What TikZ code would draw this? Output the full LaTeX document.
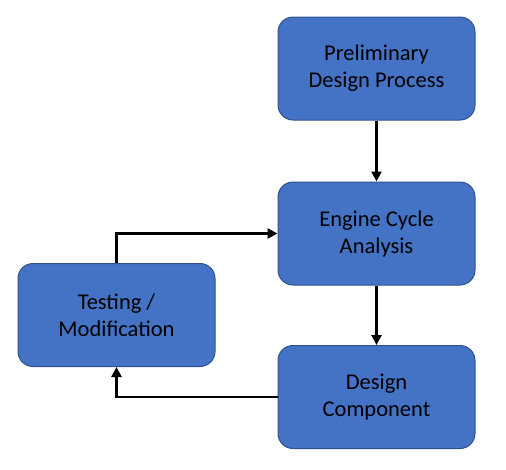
\documentclass[tikz,border=0pt]{standalone}
\usepackage{fontspec}
\setmainfont{Carlito}
\usetikzlibrary{arrows.meta}
\definecolor{boxfill}{HTML}{4472C4}
\definecolor{boxline}{HTML}{2F528F}
\tikzset{
  blk/.style={draw=boxline, fill=boxfill, line width=1pt, rounded corners=15pt,
    minimum width=197pt, minimum height=103pt, inner sep=0pt, align=center,
    font=\fontsize{22.5}{27}\selectfont, text=black},
  arr/.style={line width=2.6pt, -{Triangle[length=10pt,width=10pt]}}
}
\begin{document}
\begin{tikzpicture}[x=1pt,y=1pt]
\useasboundingbox (0,0) rectangle (506,-469);
\node[blk] (pre) at (376.5,-68.5) {Preliminary\\Design Process};
\node[blk] (eng) at (376.5,-233.5) {Engine Cycle\\Analysis};
\node[blk] (des) at (376.5,-397) {Design\\Component};
\node[blk] (tst) at (116.5,-315) {Testing /\\Modification};
\draw[arr] (pre) -- (eng);
\draw[arr] (eng) -- (des);
\draw[arr] (des.west) -| (tst.south);
\draw[arr] (tst.north) |- (eng.west);
\end{tikzpicture}
\end{document}
